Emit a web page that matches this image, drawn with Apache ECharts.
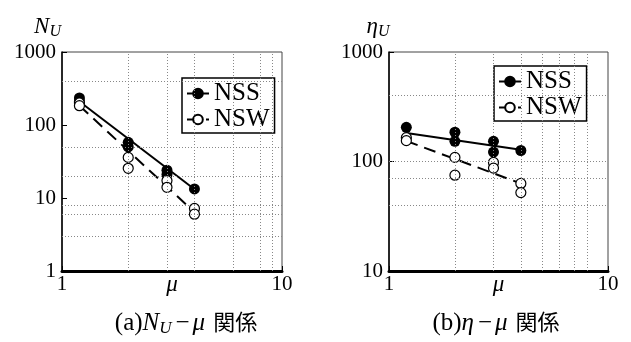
<!DOCTYPE html>
<html>
<head>
<meta charset="utf-8">
<script src="https://cdn.jsdelivr.net/npm/echarts@6/dist/echarts.min.js"></script>
<style>html,body{margin:0;padding:0;background:#fff;}#c{width:631px;height:342px;}</style>
</head>
<body>
<div id="c"></div>
<script>
// ---- data ----
const xTicks = ['1', '10'];
const yTicksA = ['1', '10', '100', '1000'];
const yTicksB = ['10', '100', '1000'];

// (a) N_U - mu
const a_NSS_mu = [1.2, 1.2, 2.0, 2.0, 3.0, 3.0, 4.0];
const a_NSS_N  = [235, 210, 58, 50, 24, 21, 13.3];
const a_NSW_mu = [1.2, 1.2, 2.0, 2.0, 3.0, 3.0, 4.0, 4.0];
const a_NSW_N  = [200, 184, 36, 25.5, 17.3, 14, 7.2, 6.0];
const a_NSS_fit = [[1.2, 210], [4.0, 13.2]];
const a_NSW_fit = [[1.2, 184], [4.0, 6.4]];

// (b) eta_U - mu
const b_NSS_mu  = [1.2, 2.0, 2.0, 3.0, 3.0, 4.0];
const b_NSS_eta = [205, 185, 153, 153, 122, 126];
const b_NSW_mu  = [1.2, 1.2, 2.0, 2.0, 3.0, 3.0, 4.0, 4.0];
const b_NSW_eta = [165, 155, 109, 75, 98, 87, 63, 52];
const b_NSS_fit = [[1.2, 182], [4.0, 128]];
const b_NSW_fit = [[1.2, 154], [4.0, 63]];

// grid lines visible in the picture
const a_gridX = [2, 3, 4, 6, 8, 9];
const a_gridY = [400, 50, 20, 8, 6, 3];
const b_gridX = [2, 3, 4, 5, 6, 7, 8];
const b_gridY = [400, 100, 70, 40];

// ---- build ----
const SERIF = 'Liberation Serif';
const zip = (xs, ys) => xs.map((x, i) => [x, ys[i]]);

function xAxisFor(gi) {
  return {
    type: 'log', logBase: 10, min: 1, max: 10, gridIndex: gi,
    name: 'μ', nameLocation: 'middle', nameGap: 2, nameMoveOverlap: false,
    nameTextStyle: { fontFamily: SERIF, fontStyle: 'italic', fontSize: 23, color: '#000', verticalAlign: 'top' },
    axisLine: { show: true, lineStyle: { color: '#000', width: 3 } },
    axisTick: { show: true, inside: true, length: 5, lineStyle: { color: '#000' } },
    axisLabel: { fontFamily: SERIF, fontSize: 21, color: '#000', margin: 3,
      formatter: v => (xTicks.indexOf(String(Math.round(v))) >= 0 ? String(Math.round(v)) : '') },
    splitLine: { show: false }
  };
}
function yAxisFor(gi, min, ticks, sym, pad) {
  return {
    type: 'log', logBase: 10, min: min, max: 1000, gridIndex: gi,
    name: '{m|' + sym + '}{s|U}', nameLocation: 'end', nameGap: 3, nameMoveOverlap: false,
    nameTextStyle: {
      align: 'center', padding: [0, pad, 0, 0],
      rich: {
        m: { fontFamily: SERIF, fontStyle: 'italic', fontSize: 23, color: '#000', lineHeight: 22, verticalAlign: 'top' },
        s: { fontFamily: SERIF, fontStyle: 'italic', fontSize: 16, color: '#000', lineHeight: 34 }
      }
    },
    axisLine: { show: true, lineStyle: { color: '#000', width: 1.5 } },
    axisTick: { show: true, inside: true, length: 5, lineStyle: { color: '#000' } },
    axisLabel: { fontFamily: SERIF, fontSize: 21, color: '#000', margin: 6,
      formatter: v => (ticks.indexOf(String(Math.round(v))) >= 0 ? String(Math.round(v)) : '') },
    splitLine: { show: false }
  };
}
function gridMarks(gx, gy) {
  return {
    silent: true, symbol: 'none', label: { show: false },
    lineStyle: { color: '#888', width: 1, type: [1, 2] },
    data: gx.map(v => ({ xAxis: v })).concat(gy.map(v => ({ yAxis: v })))
  };
}
function fitSeries(name, gi, data, filled, marks) {
  return {
    name: name, type: 'line', xAxisIndex: gi, yAxisIndex: gi, data: data,
    showSymbol: false, symbol: 'circle', symbolSize: filled ? 11 : 10,
    itemStyle: filled ? { color: '#000', borderColor: '#000', borderWidth: 1, opacity: 1 }
                      : { color: '#fff', borderColor: '#000', borderWidth: 1.2, opacity: 1 },
    lineStyle: { color: '#000', width: 2, type: filled ? 'solid' : [12, 7] },
    z: 2, silent: true, animation: false,
    markLine: marks
  };
}
function ptSeries(name, gi, data, filled) {
  return {
    name: name, type: 'scatter', xAxisIndex: gi, yAxisIndex: gi, data: data,
    symbol: 'circle', symbolSize: filled ? 11 : 10,
    itemStyle: filled ? { color: '#000', opacity: 1 } : { color: '#fff', borderColor: '#000', borderWidth: 1.2, opacity: 1 },
    z: 3, silent: true, animation: false
  };
}
function legendAt(left, top) {
  return {
    data: ['NSS', 'NSW'], left: left, top: top, orient: 'vertical',
    backgroundColor: '#fff', borderColor: '#000', borderWidth: 1.5,
    padding: [3, 5, 1, 4], itemGap: 1, itemWidth: 22, itemHeight: 12,
    selectedMode: false,
    textStyle: { fontFamily: SERIF, fontSize: 25, color: '#000' }
  };
}

const capRich = {
  r: { fontFamily: SERIF, fontSize: 25, fontWeight: 'normal', color: '#000', lineHeight: 26, verticalAlign: 'top' },
  d: { fontFamily: SERIF, fontSize: 25, fontWeight: 'normal', color: '#000', lineHeight: 26, verticalAlign: 'top', padding: [0, 3, 0, 4] },
  i: { fontFamily: SERIF, fontSize: 25, fontWeight: 'normal', fontStyle: 'italic', color: '#000', lineHeight: 26, verticalAlign: 'top' },
  s: { fontFamily: SERIF, fontSize: 17, fontWeight: 'normal', fontStyle: 'italic', color: '#000', lineHeight: 12, verticalAlign: 'bottom' },
  j: { fontFamily: 'Noto Sans CJK JP', fontSize: 22, fontWeight: 'normal', color: '#000', lineHeight: 26, verticalAlign: 'top', padding: [0, 0, 0, 8] }
};

const option = {
  animation: false,
  backgroundColor: '#fff',
  title: [
    { text: '{r|(a)}{i|N}{s|U}{d|−}{i|μ}{j|関係}', left: 181, top: 306, textAlign: 'center',
      textStyle: { fontWeight: 'normal', rich: capRich } },
    { text: '{r|(b)}{i|η}{d|−}{i|μ}{j|関係}', left: 491, top: 306, textAlign: 'center',
      textStyle: { fontWeight: 'normal', rich: capRich } }
  ],
  grid: [
    { left: 62, right: 349, top: 52, bottom: 71, show: true, borderColor: '#444', borderWidth: 1, backgroundColor: 'transparent' },
    { left: 389, right: 23, top: 52, bottom: 71, show: true, borderColor: '#444', borderWidth: 1, backgroundColor: 'transparent' }
  ],
  xAxis: [xAxisFor(0), xAxisFor(1)],
  yAxis: [yAxisFor(0, 1, yTicksA, 'N', 29), yAxisFor(1, 10, yTicksB, 'η', 22)],
  legend: [legendAt(182, 78), legendAt(494, 66)],
  series: [
    fitSeries('NSS', 0, a_NSS_fit, true, gridMarks(a_gridX, a_gridY)),
    fitSeries('NSW', 0, a_NSW_fit, false),
    ptSeries('NSS pts a', 0, zip(a_NSS_mu, a_NSS_N), true),
    ptSeries('NSW pts a', 0, zip(a_NSW_mu, a_NSW_N), false),
    fitSeries('NSS', 1, b_NSS_fit, true, gridMarks(b_gridX, b_gridY)),
    fitSeries('NSW', 1, b_NSW_fit, false),
    ptSeries('NSS pts b', 1, zip(b_NSS_mu, b_NSS_eta), true),
    ptSeries('NSW pts b', 1, zip(b_NSW_mu, b_NSW_eta), false)
  ]
};
const chart = echarts.init(document.getElementById('c'), null, { renderer: 'canvas' });
chart.setOption(option);
</script>
</body>
</html>
